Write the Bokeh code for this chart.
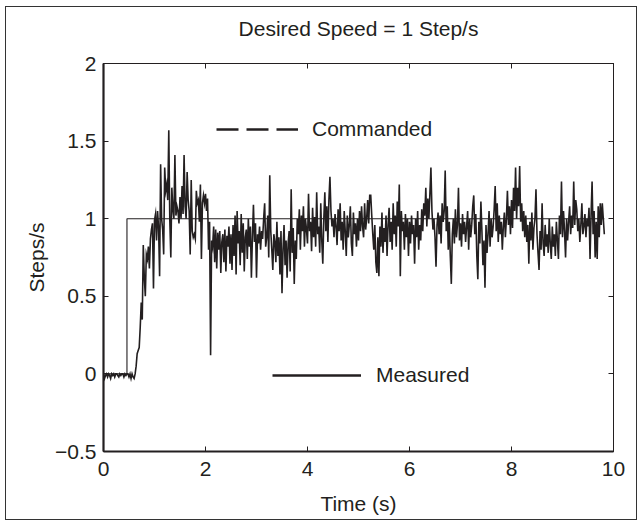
from bokeh.plotting import figure
from bokeh.models import LinearAxis, FixedTicker, Legend, LegendItem, Range1d
from bokeh.embed import file_html
from bokeh.resources import INLINE

# ---------------- data ----------------
sample_interval = 0.02
measured = [
    # 0.00 - 0.48
    0, -0.03, -0.01, 0, -0.02, 0, -0.01, -0.03, 0, -0.01, 0, -0.02, 0, 0, -0.01, -0.02, 0, -0.01, 0, 0, -0.02, 0, -0.01, 0, 0,
    # 0.50 - 0.98
    -0.02, 0, -0.03, 0, -0.02, -0.03, 0, 0.05, 0.13, 0.15, 0.17, 0.30, 0.46, 0.35, 0.83, 0.62, 0.50, 0.77, 0.74, 0.82, 0.68, 0.87, 0.93, 0.97, 0.55,
    # 1.00 - 1.48
    0.99, 1.03, 0.86, 1.05, 0.94, 0.63, 1.35, 1.00, 0.93, 0.77, 1.33, 1.18, 1.22, 1.12, 1.57, 0.99, 0.75, 1.20, 1.06, 1.00, 1.41, 1.02, 1.08, 1.05, 0.97,
    # 1.50 - 1.98
    1.14, 1.00, 1.21, 1.03, 1.41, 1.08, 1.00, 1.30, 1.12, 1.05, 0.77, 1.25, 0.92, 0.88, 0.90, 0.87, 1.18, 1.10, 1.12, 0.98, 1.22, 0.74, 1.10, 1.15, 1.10,
    # 2.00 - 2.48
    1.16, 1.05, 1.13, 0.80, 0.98, 0.12, 0.86, 0.82, 0.95, 0.72, 0.93, 0.68, 0.91, 0.80, 0.92, 0.65, 0.85, 0.90, 0.72, 0.93, 0.66, 0.89, 0.82, 0.95, 0.71,
    # 2.50 - 2.98
    0.90, 0.67, 0.96, 0.76, 1.02, 0.64, 1.05, 0.84, 0.92, 0.70, 1.03, 0.78, 0.97, 0.66, 0.88, 0.93, 0.74, 1.00, 0.82, 0.95, 0.62, 0.88, 1.09, 0.85, 0.97,
    # 3.00 - 3.48
    0.62, 0.90, 0.84, 0.95, 0.80, 0.92, 0.87, 1.00, 1.10, 0.82, 0.88, 1.02, 0.75, 1.28, 0.92, 0.80, 0.67, 0.90, 0.85, 0.72, 0.98, 0.76, 0.88, 0.64, 0.92,
    # 3.50 - 3.98
    0.52, 0.80, 0.96, 0.70, 0.86, 0.62, 0.84, 0.92, 0.66, 1.19, 0.78, 0.94, 0.58, 0.86, 0.74, 1.00, 0.90, 1.06, 0.80, 1.02, 0.92, 1.08, 0.82, 1.00, 0.93,
    # 4.00 - 4.48
    0.84, 1.16, 0.92, 0.98, 0.79, 1.07, 0.88, 1.01, 0.82, 1.17, 0.90, 0.95, 0.78, 1.10, 0.86, 0.71, 1.00, 1.17, 0.92, 1.08, 0.85, 1.12, 1.27, 1.05, 0.95,
    # 4.50 - 4.98
    1.00, 0.88, 1.03, 0.95, 0.83, 1.06, 0.92, 1.10, 0.86, 0.98, 0.80, 1.05, 0.92, 0.76, 1.02, 0.88, 0.96, 1.08, 0.84, 0.76, 1.04, 0.90, 0.97, 0.82, 1.00,
    # 5.00 - 5.48
    0.86, 1.05, 0.92, 1.08, 0.95, 0.88, 1.10, 0.93, 1.00, 1.12, 0.97, 1.15, 1.15, 1.02, 0.90, 0.80, 0.96, 0.72, 0.65, 0.88, 0.63, 0.95, 0.82, 1.04, 0.78,
    # 5.50 - 5.98
    0.94, 0.85, 1.02, 0.76, 0.96, 1.07, 0.85, 0.98, 0.80, 1.10, 0.90, 1.02, 0.82, 1.11, 0.95, 1.22, 0.63, 1.05, 0.92, 0.98, 0.80, 1.03, 0.88, 1.00, 0.76,
    # 6.00 - 6.48
    0.98, 0.84, 1.02, 0.90, 0.96, 0.71, 1.00, 0.88, 1.05, 0.80, 0.96, 0.86, 1.06, 0.92, 1.10, 1.02, 1.20, 0.95, 1.13, 1.00, 1.16, 1.33, 1.05, 0.93, 1.00,
    # 6.50 - 6.98
    0.88, 0.69, 0.96, 1.04, 0.90, 1.02, 0.84, 1.10, 0.98, 1.05, 1.31, 0.92, 1.08, 0.80, 0.98, 0.76, 0.58, 0.90, 1.00, 0.84, 1.06, 0.88, 0.96, 1.20, 0.86,
    # 7.00 - 7.48
    0.97, 0.82, 1.03, 0.90, 0.98, 0.85, 0.95, 1.05, 0.80, 1.00, 0.88, 0.96, 1.08, 1.15, 0.90, 1.03, 0.76, 0.61, 0.98, 0.84, 1.11, 0.92, 0.70, 0.86, 0.555,
    # 7.50 - 7.98
    0.96, 0.78, 0.90, 1.05, 0.82, 1.00, 0.88, 0.95, 1.06, 1.21, 0.92, 1.10, 0.85, 1.02, 0.90, 0.98, 0.80, 0.95, 1.04, 0.88, 1.00, 1.18, 0.96, 1.08, 0.90,
    # 8.00 - 8.48
    1.12, 0.94, 1.20, 1.05, 1.33, 1.00, 1.20, 1.08, 1.34, 0.98, 1.10, 0.92, 1.05, 0.88, 1.02, 0.85, 0.96, 0.71, 0.98, 0.86, 1.04, 0.80, 0.94, 1.00, 1.19,
    # 8.50 - 8.98
    0.90, 0.78, 0.67, 0.92, 0.80, 1.10, 0.84, 0.76, 0.96, 0.82, 0.90, 0.78, 1.00, 0.84, 0.74, 0.95, 0.82, 0.90, 0.76, 0.98, 0.86, 0.74, 1.02, 0.90, 1.24,
    # 9.00 - 9.48
    0.88, 1.05, 0.92, 0.75, 1.00, 0.86, 0.98, 1.08, 0.90, 1.02, 0.94, 1.24, 0.96, 1.12, 1.06, 0.92, 1.00, 0.85, 0.96, 1.10, 0.90, 0.95, 1.03, 0.88, 1.00,
    # 9.50 - 9.82
    0.95, 1.07, 0.74, 1.02, 1.24, 0.90, 1.05, 0.75, 0.98, 0.74, 1.08, 0.88, 1.10, 0.96, 1.10, 1.00, 0.90,
]
time_s = [round(i * sample_interval, 2) for i in range(len(measured))]

commanded_time = [0.0, 0.46, 0.46, 9.82]
commanded_value = [0.0, 0.0, 1.0, 1.0]

x_ticks = [0, 2, 4, 6, 8, 10]
x_tick_labels = ["0", "2", "4", "6", "8", "10"]
y_ticks = [-0.5, 0, 0.5, 1, 1.5, 2]
y_tick_labels = ["\u22120.5", "0", "0.5", "1", "1.5", "2"]

title_text = "Desired Speed = 1 Step/s"
x_label = "Time (s)"
y_label = "Steps/s"
legend_labels = ["Commanded", "Measured"]

# ---------------- style ----------------
FONT = "Liberation Sans"
INK = "#231f20"
FS = "21px"
NAN = float("nan")

p = figure(
    width=632, height=514,
    x_range=Range1d(0, 10), y_range=Range1d(-0.5, 2),
    output_backend="svg", toolbar_location=None,
    title=title_text, x_axis_label=x_label, y_axis_label=y_label,
    min_border_left=97, min_border_right=25, min_border_top=56, min_border_bottom=70,
    background_fill_color="white", border_fill_color="white",
    outline_line_color=INK, outline_line_width=1,
)
p.styles = {"margin-left": "5px", "margin-top": "6px",
            "border": "1.5px solid #333333"}
p.grid.visible = False

p.title.text_font = FONT
p.title.text_font_size = FS
p.title.text_font_style = "normal"
p.title.text_color = INK
p.title.align = "center"
p.title.standoff = 14


def style_axis(ax, ticks, labels, width):
    ax.ticker = FixedTicker(ticks=ticks)
    ax.major_label_overrides = {t: l for t, l in zip(ticks, labels)}
    ax.axis_line_color = INK
    ax.axis_line_width = width
    ax.major_tick_line_color = INK
    ax.major_tick_line_width = 1
    ax.major_tick_in = 5
    ax.major_tick_out = 0
    ax.minor_tick_line_color = None
    ax.major_label_text_font = FONT
    ax.major_label_text_font_size = FS
    ax.major_label_text_color = INK
    ax.axis_label_text_font = FONT
    ax.axis_label_text_font_size = FS
    ax.axis_label_text_font_style = "normal"
    ax.axis_label_text_color = INK


style_axis(p.xaxis[0], x_ticks, x_tick_labels, 2.2)
p.xaxis[0].major_label_standoff = 10
p.xaxis[0].axis_label_standoff = 13
style_axis(p.yaxis[0], y_ticks, y_tick_labels, 2.2)
p.yaxis[0].major_label_standoff = 7
p.yaxis[0].axis_label_standoff = 4

# top axis: ticks only (blank labels; the standoff keeps the title clear of the frame)
top_axis = LinearAxis()
style_axis(top_axis, x_ticks, [" " for _ in x_ticks], 1)
top_axis.major_label_text_font_size = "1px"
top_axis.major_label_standoff = 13
p.add_layout(top_axis, "above")

right_axis = LinearAxis()
style_axis(right_axis, y_ticks, ["" for _ in y_ticks], 1)
right_axis.major_label_text_font_size = "1px"
right_axis.major_label_standoff = 0
p.add_layout(right_axis, "right")

# ---------------- data lines ----------------
p.line(commanded_time, commanded_value, line_color=INK, line_width=1.1)
p.line(time_s, measured, line_color=INK, line_width=1.6, line_join="miter")

# ---------------- legend (two separately placed entries) ----------------
# legend-only renderers (no visible data) carrying the key line styles
dash_r = p.line(x=[NAN], y=[NAN], line_color=INK, line_width=2.5, line_dash="22 8")
solid_r = p.line(x=[NAN], y=[NAN], line_color=INK, line_width=2.5)


def make_legend(label, renderer, loc, glyph_w, standoff):
    return Legend(
        items=[LegendItem(label=label, renderers=[renderer])],
        location=loc, glyph_width=glyph_w, glyph_height=24, label_height=24,
        label_standoff=standoff, padding=0, margin=0, spacing=0,
        border_line_color=None, background_fill_alpha=0,
        label_text_font=FONT, label_text_font_size=FS, label_text_color=INK,
    )


p.add_layout(make_legend(legend_labels[0], dash_r, (113, 310), 82, 14))
p.add_layout(make_legend(legend_labels[1], solid_r, (169, 64), 89, 15))

open("out.html", "w").write(file_html(p, INLINE))
